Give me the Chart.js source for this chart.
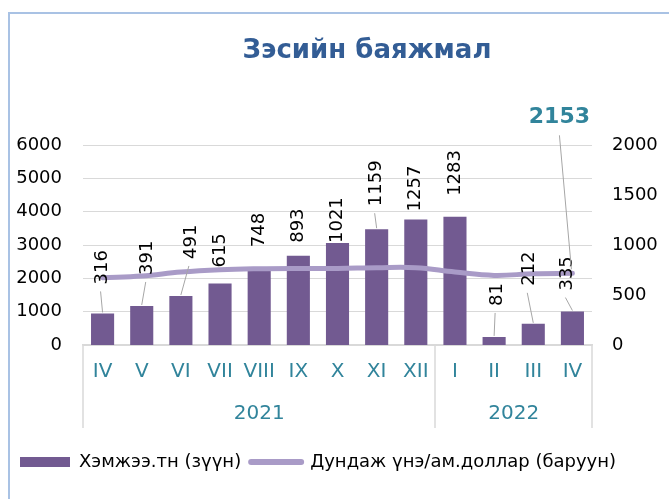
<!DOCTYPE html>
<html lang="mn">
  <head>
    <meta charset="UTF-8" />
    <title>Зэсийн баяжмал</title>
    <script src="https://cdn.jsdelivr.net/npm/chart.js"></script>
    <style>
      html, body { margin: 0; padding: 0; overflow: hidden; background: #fff; }
      #frame {
        position: absolute; left: 8px; top: 12px; width: 714px; height: 487px;
        border-left: 2px solid #a9c2e4; border-top: 2px solid #a9c2e4;
      }
      canvas { display: block; }
    </style>
  </head>
  <body>
    <div id="frame"><canvas id="copperChart" width="714" height="487"></canvas></div>

    <script>
      const months = ["IV", "V", "VI", "VII", "VIII", "IX", "X", "XI", "XII", "I", "II", "III", "IV"];
      const years = ["2021", "2022"];
      const yearSpan = [9, 4];
      const volume = [316, 391, 491, 615, 748, 893, 1021, 1159, 1257, 1283, 81, 212, 335];
      const avgPrice = [2020, 2070, 2190, 2260, 2290, 2300, 2300, 2320, 2320, 2190, 2090, 2140, 2153];
      const priceCallout = "2153";
      const leftMax = 6000, leftStep = 1000;
      const rightMax = 2000, rightStep = 500;

      const teal = "#31849b";
      const barColor = "#725a91";
      const lineColor = "#a99bc7";

      // [x nudge, lift above bar, leader line] for each bar label
      const labelNudge = [
        [0, 29, true], [6, 31, true], [10, 37, true], [0, 16, false], [0, 23, false],
        [0, 13, false], [0, 0, false], [0, 23, true], [0, 8, false], [0, 21, false],
        [3, 31, true], [-4, 38, true], [-5, 21, true],
      ];

      Chart.defaults.font.family = '"DejaVu Sans", sans-serif';
      Chart.defaults.font.size = 18;
      Chart.defaults.color = "#000";

      const barLabels = {
        id: "barLabels",
        afterDatasetsDraw(chart) {
          const ctx = chart.ctx;
          ctx.save();
          ctx.font = '18px "DejaVu Sans"';
          ctx.fillStyle = "#000";
          ctx.strokeStyle = "#a6a6a6";
          ctx.lineWidth = 1;
          chart.getDatasetMeta(0).data.forEach((bar, i) => {
            const [dx, lift, leader] = labelNudge[i];
            const x = bar.x + dx, y = bar.y - lift;
            if (leader) {
              ctx.beginPath();
              ctx.moveTo(bar.x, bar.y - 1);
              ctx.lineTo(x - 2, y + 7);
              ctx.stroke();
            }
            ctx.save();
            ctx.translate(x, y);
            ctx.rotate(-Math.PI / 2);
            ctx.textAlign = "left";
            ctx.textBaseline = "middle";
            ctx.fillText(String(volume[i]), 0, 0);
            ctx.restore();
          });

          // callout for the last price point
          const pts = chart.getDatasetMeta(1).data;
          const p = pts[pts.length - 1];
          ctx.beginPath();
          ctx.moveTo(p.x - 13, p.y - 138);
          ctx.lineTo(p.x - 1, p.y - 4);
          ctx.stroke();
          ctx.font = 'bold 22px "DejaVu Sans"';
          ctx.fillStyle = teal;
          ctx.textAlign = "center";
          ctx.textBaseline = "middle";
          ctx.fillText(priceCallout, p.x - 13, p.y - 156);
          ctx.restore();
        },
      };

      const yearAxis = {
        id: "yearAxis",
        afterDraw(chart) {
          const { ctx, chartArea } = chart;
          const x = chart.scales.x;
          const step = x.width / months.length;
          const edge = (k) => x.left + k * step;
          const top = chartArea.bottom;
          ctx.save();
          ctx.strokeStyle = "#d9d9d9";
          ctx.lineWidth = 1.5;
          ctx.fillStyle = teal;
          ctx.font = '20px "DejaVu Sans"';
          ctx.textAlign = "center";
          ctx.textBaseline = "middle";
          const sep = (px) => {
            ctx.beginPath();
            ctx.moveTo(Math.round(px), top);
            ctx.lineTo(Math.round(px), top + 83);
            ctx.stroke();
          };
          sep(edge(0));
          let start = 0;
          years.forEach((yr, j) => {
            const end = start + yearSpan[j];
            sep(edge(end));
            ctx.fillText(yr, (edge(start) + edge(end)) / 2, top + 69);
            start = end;
          });
          ctx.restore();
        },
      };

      new Chart(document.getElementById("copperChart"), {
        data: {
          labels: months,
          datasets: [
            {
              type: "bar",
              label: "Хэмжээ.тн (зүүн)",
              data: volume,
              yAxisID: "y1",
              backgroundColor: barColor,
              categoryPercentage: 1,
              barPercentage: 0.59,
              order: 1,
            },
            {
              type: "line",
              label: "Дундаж үнэ/ам.доллар (баруун)",
              data: avgPrice,
              yAxisID: "y",
              borderColor: lineColor,
              backgroundColor: lineColor,
              borderWidth: 5,
              borderCapStyle: "round",
              pointRadius: 0,
              tension: 0.4,
              order: 0,
            },
          ],
        },
        options: {
          responsive: false,
          animation: false,
          layout: { padding: { left: 0, right: 0, top: 0, bottom: 20 } },
          plugins: {
            tooltip: { enabled: false },
            title: {
              display: true,
              text: "Зэсийн баяжмал",
              color: "#335d95",
              font: { size: 26, weight: "bold" },
              padding: { top: 22, bottom: 78 },
            },
            legend: {
              position: "bottom",
              align: "start",
              labels: {
                usePointStyle: true,
                pointStyleWidth: 50,
                boxHeight: 10,
                padding: 10,
                color: "#000",
                font: { size: 18 },
                sort: (a, b) => a.datasetIndex - b.datasetIndex,
                generateLabels(chart) {
                  const items = Chart.defaults.plugins.legend.labels.generateLabels(chart);
                  items.forEach((it) => {
                    const ds = chart.data.datasets[it.datasetIndex];
                    if (ds.type === "line") {
                      it.pointStyle = "line";
                      it.lineWidth = 6;
                      it.lineCap = "round";
                    } else {
                      it.pointStyle = "rect";
                      it.lineWidth = 0;
                    }
                  });
                  return items;
                },
              },
            },
          },
          scales: {
            x: {
              offset: true,
              grid: { display: false, drawTicks: false },
              border: { display: true, color: "#d9d9d9", width: 1.5 },
              ticks: { color: teal, font: { size: 20 }, padding: 15, maxRotation: 0, autoSkip: false },
              afterFit: (s) => { s.height = 98; },
            },
            y: {
              position: "left",
              min: 0,
              max: leftMax,
              ticks: { stepSize: leftStep, padding: 21, color: "#000", callback: (v) => String(v) },
              grid: { color: "#d9d9d9", drawTicks: false },
              border: { display: false },
              afterFit: (s) => { s.width = 73; },
            },
            y1: {
              position: "right",
              min: 0,
              max: rightMax,
              ticks: { stepSize: rightStep, padding: 20, color: "#000", callback: (v) => String(v) },
              grid: { display: false, drawTicks: false },
              border: { display: false },
              afterFit: (s) => { s.width = 132; },
            },
          },
        },
        plugins: [barLabels, yearAxis],
      });
    </script>
  </body>
</html>
